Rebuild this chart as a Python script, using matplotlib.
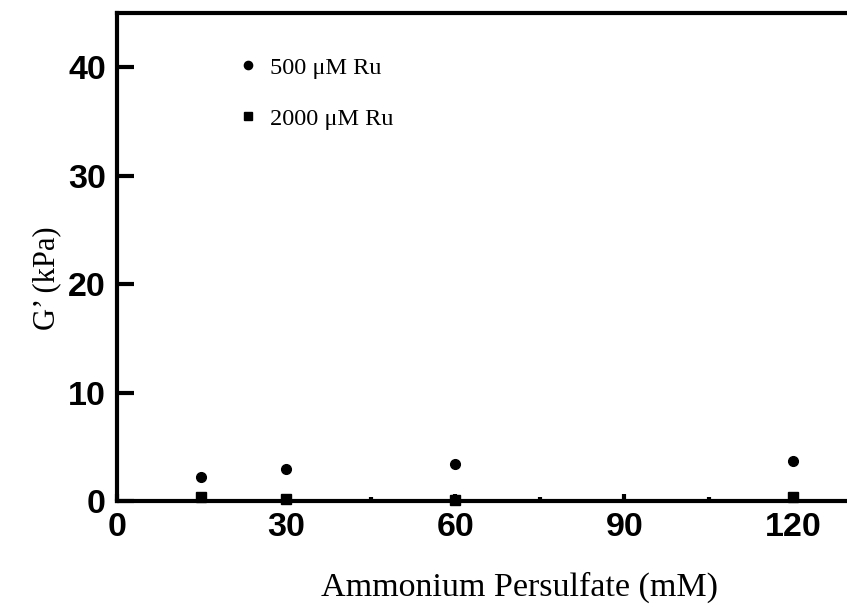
import matplotlib
matplotlib.use("Agg")
import matplotlib.pyplot as plt
from matplotlib.ticker import MultipleLocator

# Ammonium persulfate concentration (mM)
aps = [15, 30, 60, 120]
# storage modulus G' (kPa)
g_500 = [2.2, 2.95, 3.4, 3.7]
g_2000 = [0.4, 0.2, 0.1, 0.4]

fig = plt.figure(figsize=(8.47, 6.09), dpi=100)
ax = fig.add_axes([0.138, 0.177, 0.862, 0.802])

ax.plot(aps, g_500, 'o', color='black', markersize=7, label='500 μM Ru', clip_on=False)
ax.plot(aps, g_2000, 's', color='black', markersize=7, label='2000 μM Ru', clip_on=False)

ax.set_xlim(0, 129.5)
ax.set_ylim(0, 45)
ax.xaxis.set_major_locator(MultipleLocator(30))
ax.xaxis.set_minor_locator(MultipleLocator(15))
ax.yaxis.set_major_locator(MultipleLocator(10))

for s in ['left', 'bottom', 'top']:
    ax.spines[s].set_linewidth(3)
ax.spines['right'].set_visible(False)

ax.tick_params(axis='x', which='major', direction='in', length=5, width=3, pad=8)
ax.tick_params(axis='x', which='minor', direction='in', length=3, width=3)
ax.tick_params(axis='y', which='major', direction='in', length=12, width=3, pad=8)
for lab in ax.get_xticklabels() + ax.get_yticklabels():
    lab.set_family('Liberation Sans')
    lab.set_fontweight('bold')
    lab.set_fontsize(24.5)

ax.set_xlabel('Ammonium Persulfate (mM)', family='Liberation Serif', fontsize=24.5)
ax.xaxis.set_label_coords(0.552, -0.145)
ax.set_ylabel('G’ (kPa)', family='Liberation Serif', fontsize=22)
ax.yaxis.set_label_coords(-0.076, 0.457)

leg = ax.legend(loc='upper left', bbox_to_anchor=(0.125, 0.955), frameon=False,
                prop={'family': 'Liberation Serif', 'size': 17.5},
                handletextpad=0.15, labelspacing=1.2, handlelength=1.5, markerscale=0.85)

fig.savefig('out.png', dpi=100)
